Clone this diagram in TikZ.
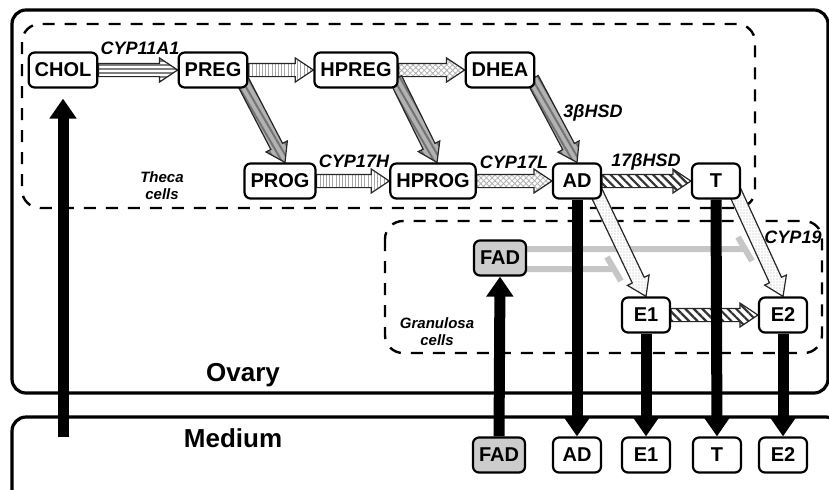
\documentclass[tikz,border=0pt]{standalone}
\usepackage{fontspec}
\setmainfont{Liberation Sans}
\usetikzlibrary{calc,arrows.meta,patterns.meta,backgrounds}

% block arrow with a patterned body: [style]{from}{to}
\newcommand{\enzarrow}[3][]{%
  \coordinate (ea-neck) at ($(#3)!9pt!(#2)$);
  \draw[enzyme, #1] ($(#2)!3.3pt!90:(#3)$) -- ($(ea-neck)!3.3pt!90:(#3)$)
    -- ($(ea-neck)!6pt!90:(#3)$) -- (#3) -- ($(ea-neck)!6pt!-90:(#3)$)
    -- ($(ea-neck)!3.3pt!-90:(#3)$) -- ($(#2)!3.3pt!-90:(#3)$) -- cycle;}

\begin{document}
\begin{tikzpicture}[x=0.5pt, y=-0.5pt,
    mol/.style={draw, line width=1.1pt, rounded corners=3pt, fill=white, minimum width=24pt,
      minimum height=17.5pt, inner xsep=3pt, inner ysep=0pt, font=\bfseries\fontsize{10}{12}\selectfont},
    fadbox/.style={mol, fill=gray!40},
    enz/.style={font=\bfseries\itshape\fontsize{9}{10}\selectfont},
    cell/.style={align=center, font=\bfseries\itshape\fontsize{7.5}{8.5}\selectfont},
    region/.style={font=\bfseries\fontsize{13}{15}\selectfont},
    compart/.style={line width=1.6pt, rounded corners=7pt},
    cellbox/.style={line width=1.2pt, dash pattern=on 6pt off 5pt, rounded corners=9pt},
    flux/.style={line width=5.5pt, -{Triangle[width=13pt,length=10pt]}},
    inhib/.style={line width=3pt, gray!45},
    enzyme/.style={line width=0.6pt, draw=black!85},
    side/.style={preaction={fill=white}, pattern={Lines[angle=0,distance=2pt,line width=0.7pt]}, pattern color=gray},
    vstripe/.style={preaction={fill=white}, pattern={Lines[angle=90,distance=1.6pt,line width=0.5pt]}, pattern color=gray!70},
    xdots/.style={preaction={fill=white}, pattern={Hatch[angle=45,distance=2pt,line width=0.4pt]}, pattern color=gray!60},
    darkdiag/.style={preaction={fill=gray!60}, pattern={Lines[angle=-60,distance=3pt,line width=1pt]}, pattern color=black!55},
    hatch/.style={preaction={fill=white}, pattern={Lines[angle=-45,distance=3pt,line width=1.1pt]}, pattern color=black!80},
    aromat/.style={preaction={fill=white}, pattern={Dots[distance=1.5pt,radius=0.35pt]}, pattern color=gray!60}]
    \useasboundingbox (0,0) rectangle (829,489);

    % === THECA CELLS ===
    \node[mol] (CHOL) at (63,70) {CHOL};
    \node[mol] (PREG) at (213,70) {PREG};
    \node[mol] (HPREG) at (356,70) {HPREG};
    \node[mol] (DHEA) at (500,70) {DHEA};
    \node[mol] (PROG) at (280,181) {PROG};
    \node[mol] (HPROG) at (433,181) {HPROG};
    \node[mol] (AD) at (577,181) {AD};
    \node[mol] (T) at (716,181) {T};

    % === GRANULOSA CELLS ===
    \node[fadbox] (FAD) at (500,258) {FAD};
    \node[mol] (E1) at (646,315) {E1};
    \node[mol] (E2) at (783,315) {E2};

    % === MEDIUM ===
    \node[fadbox] (mFAD) at (499,455) {FAD};
    \node[mol] (mAD) at (577,455) {AD};
    \node[mol] (mE1) at (646,455) {E1};
    \node[mol] (mT) at (717,455) {T};
    \node[mol] (mE2) at (783,455) {E2};

    % enzymes and labels
    \node[enz] (cyp11a1) at (140,48) {CYP11A1};
    \node[enz] (cyp17h) at (354,161) {CYP17H};
    \node[enz] (cyp17l) at (514,162) {CYP17L};
    \node[enz] (hsd3) at (593,113) {3βHSD};
    \node[enz] (hsd17) at (646,162) {17βHSD};
    \node[enz] (cyp19) at (793,237) {CYP19};
    \node[cell] (theca) at (162,186) {Theca\\cells};
    \node[cell] (granulosa) at (437,332) {Granulosa\\cells};
    \node[region] (ovary) at (243,375) {Ovary};
    \node[region] (medium) at (233,438) {Medium};

    \begin{scope}[on background layer]
    \clip (0,0) rectangle (829,489);
    % compartments
    \draw[compart] (12,10) rectangle (828,393);
    \draw[compart] (12,417) rectangle (840,520);
    \draw[cellbox] (22,24) rectangle (755,208);
    \draw[cellbox] (385,221) rectangle (822,353);

    % FAD inhibition
    \coordinate (tee1) at (745,249);
    \coordinate (tee2) at (614,269);
    \draw[inhib] (FAD.east |- tee1) -- (tee1) ++(-7,-12) -- ++(14,24);
    \draw[inhib] (FAD.east |- tee2) -- (tee2) ++(-7,-12) -- ++(14,24);

    % conversions
    \coordinate (preg-out) at ([xshift=-3.5pt,yshift=5pt]PREG.south east);
    \coordinate (hpreg-out) at ([xshift=-1.5pt,yshift=5pt]HPREG.south east);
    \coordinate (dhea-out) at ([xshift=-1.5pt,yshift=5pt]DHEA.south east);
    \coordinate (ad-out) at ([xshift=-4.5pt,yshift=7pt]AD.south east);
    \coordinate (t-out) at ([xshift=-4.5pt,yshift=7pt]T.south east);
    \enzarrow[side]{CHOL.east}{PREG.west}
    \enzarrow[vstripe]{PREG.east}{HPREG.west}
    \enzarrow[xdots]{HPREG.east}{DHEA.west}
    \enzarrow[vstripe]{PROG.east}{HPROG.west}
    \enzarrow[xdots]{HPROG.east}{AD.west}
    \enzarrow[hatch]{AD.east}{T.west}
    \enzarrow[hatch]{E1.east}{E2.west}
    \enzarrow[darkdiag]{preg-out}{[xshift=2.5pt]PROG.north}
    \enzarrow[darkdiag]{hpreg-out}{[xshift=2pt]HPROG.north}
    \enzarrow[darkdiag]{dhea-out}{AD.north}
    \enzarrow[aromat]{ad-out}{E1.north}
    \enzarrow[aromat]{t-out}{E2.north}

    % exchange with the medium
    \coordinate (chol-src) at (63,437);
    \draw[flux, shorten >=5pt] (chol-src) -- (CHOL.south);
    \draw[flux] (mFAD.north) -- (FAD.south);
    \draw[flux] (AD.south) -- (mAD.north);
    \draw[flux] (E1.south) -- (mE1.north);
    \draw[flux] (T.south) -- (mT.north);
    \draw[flux] (E2.south) -- (mE2.north);
    \end{scope}
\end{tikzpicture}
\end{document}
